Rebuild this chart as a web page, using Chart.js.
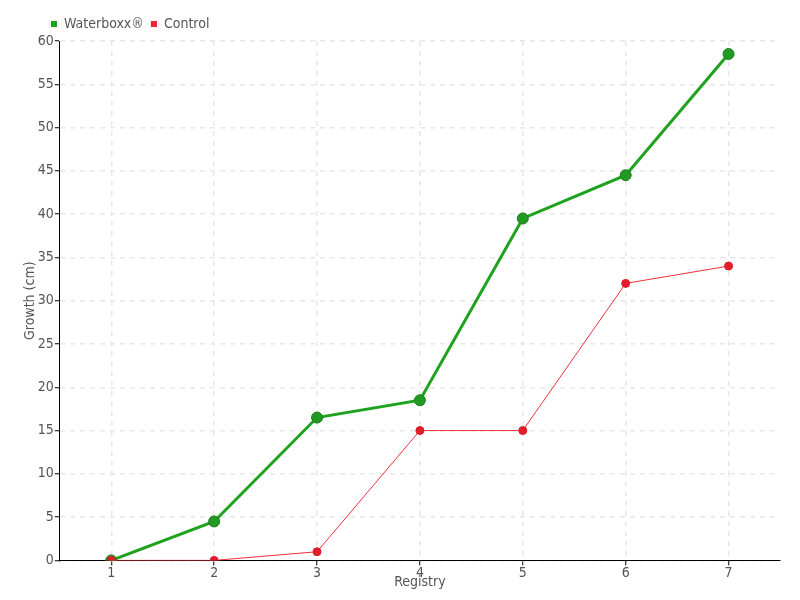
<!DOCTYPE html>
<html>
<head>
<meta charset="utf-8">
<script src="https://cdn.jsdelivr.net/npm/chart.js@4/dist/chart.umd.min.js"></script>
<style>
  html, body { margin: 0; padding: 0; background: #fff; }
  #wrap { width: 800px; height: 600px; }
</style>
</head>
<body>
<div id="wrap"><canvas id="chart" width="800" height="600"></canvas></div>
<script>
const registries = ['1', '2', '3', '4', '5', '6', '7'];
const waterboxxGrowth = [0, 4.5, 16.5, 18.5, 39.5, 44.5, 58.5];
const controlGrowth = [0, 0, 1, 15, 15, 32, 34];
const yMin = 0;
const yMax = 60;
const yStep = 5;

const fontFamily = '"DejaVu Sans Condensed", "Liberation Sans Narrow", sans-serif';
Chart.defaults.font.family = fontFamily;
Chart.defaults.font.size = 14;
Chart.defaults.color = '#555';

// legend sits a bit to the right of the chart edge
const legendShift = {
    id: 'legendShift',
    afterLayout(chart) {
        chart.legend.left += 24;
    },
};

const data = {
    labels: registries,
    datasets: [
        {
            label: 'Waterboxx®',
            data: waterboxxGrowth,
            borderColor: '#1fa31f',
            backgroundColor: '#1fa31f',
            borderWidth: 3,
            pointRadius: 5.5,
            pointHoverRadius: 5.5,
            pointBackgroundColor: '#229a22',
            pointBorderColor: '#1c7d1c',
            pointBorderWidth: 1,
            tension: 0,
            order: 1,
        },
        {
            label: 'Control',
            data: controlGrowth,
            borderColor: '#f0303e',
            backgroundColor: '#ee2433',
            borderWidth: 1,
            pointRadius: 4,
            pointHoverRadius: 4,
            pointBackgroundColor: '#e51d2b',
            pointBorderColor: '#d81b28',
            pointBorderWidth: 1,
            tension: 0,
            order: 0,
        },
    ],
};

const config = {
    type: 'line',
    data: data,
    plugins: [legendShift],
    options: {
        responsive: false,
        animation: false,
        layout: { padding: { left: 20, right: 20, top: 10, bottom: 9 } },
        plugins: {
            legend: {
                position: 'top',
                align: 'start',
                labels: {
                    boxWidth: 6,
                    boxHeight: 6,
                    padding: 7,
                    font: { size: 14 },
                    color: '#555',
                    sort: (a, b) => a.datasetIndex - b.datasetIndex,
                    generateLabels: (chart) => {
                        const items = Chart.defaults.plugins.legend.labels.generateLabels(chart);
                        items.forEach((item) => { item.lineWidth = 0; });
                        return items;
                    },
                },
            },
            tooltip: { enabled: false },
        },
        scales: {
            x: {
                offset: true,
                grid: {
                    offset: false,
                    color: '#e8e8e8',
                    lineWidth: 1.5,
                    tickColor: '#000',
                    tickLength: 5,
                    tickWidth: 1,
                    tickBorderDash: [],
                },
                border: { color: '#000', width: 1, dash: [5, 5] },
                ticks: { padding: 0, color: '#555', font: { size: 14 } },
                title: {
                    display: true,
                    text: 'Registry',
                    color: '#555',
                    font: { size: 14 },
                    padding: { top: -8, bottom: 0 },
                },
            },
            y: {
                min: yMin,
                max: yMax,
                grid: {
                    color: '#e8e8e8',
                    lineWidth: 1.5,
                    tickColor: '#000',
                    tickLength: 5,
                    tickWidth: 1,
                    tickBorderDash: [],
                },
                border: { color: '#000', width: 1, dash: [5, 5] },
                ticks: { stepSize: yStep, padding: 1, color: '#555', font: { size: 14 } },
                title: {
                    display: true,
                    text: 'Growth (cm)',
                    color: '#555',
                    font: { size: 14 },
                    padding: { top: 2, bottom: -2 },
                },
            },
        },
    },
};

new Chart(document.querySelector('#chart'), config);
</script>
</body>
</html>
